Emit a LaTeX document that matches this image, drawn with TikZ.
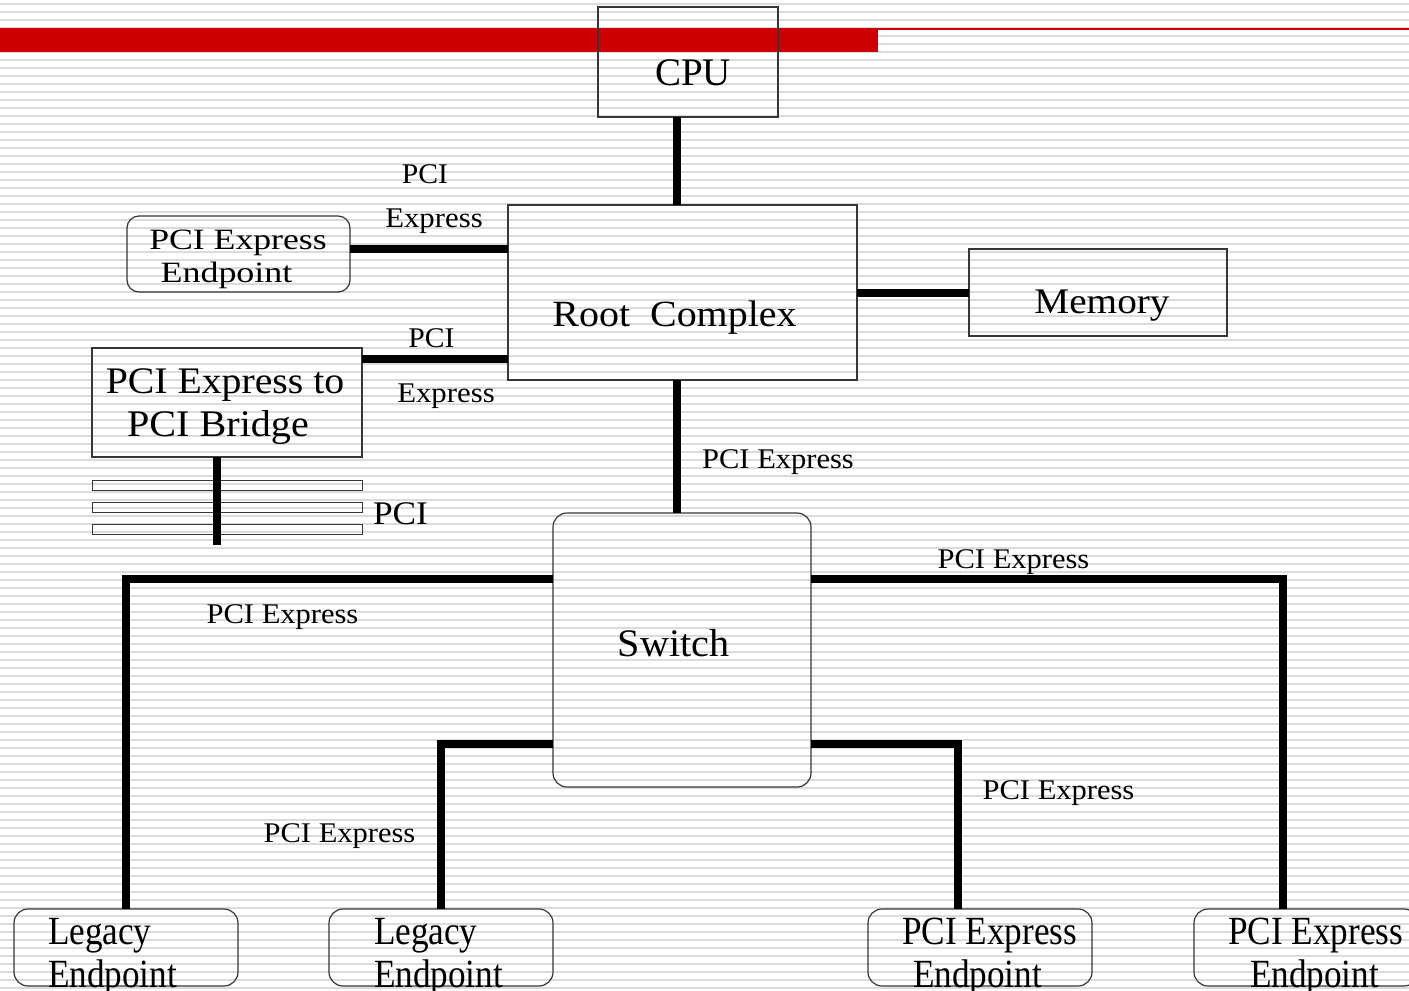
\documentclass[tikz,border=0pt]{standalone}
\usepackage{fontspec}
\setmainfont{Liberation Serif}
\usetikzlibrary{calc}
\definecolor{stripe}{RGB}{219,219,219}
\definecolor{redbar}{RGB}{204,0,0}
\definecolor{boxc}{RGB}{55,55,55}
\newcommand\fs[1]{\fontsize{#1}{#1}\selectfont}
\newcommand\hs[2]{\scalebox{#1}[1]{#2}}
\tikzset{
  box/.style={draw=boxc, line width=1.2pt, rectangle, inner sep=0pt, outer sep=0pt},
  rbox/.style={box, rounded corners=14pt},
  busbox/.style={box, line width=1pt, minimum width=270pt, minimum height=10pt},
  conn/.style={line width=8pt, black},
  txt/.style={inner sep=0pt, outer sep=0pt, anchor=base, text=black},
  txtw/.style={txt, anchor=base west},
  lbl/.style={txt, font=\fs{28.5}},
  big/.style={txtw, font=\fs{40}},
}
\begin{document}
\begin{tikzpicture}[x=1pt,y=-1pt]
\useasboundingbox (0,0) rectangle (1409,991);
\clip (0,0) rectangle (1409,991);
\fill[white] (0,0) rectangle (1409,991);
\foreach \k in {0,...,123} \draw[stripe, line width=2.4pt] (0,4+8*\k) -- (1409,4+8*\k);
\fill[redbar] (0,27.5) rectangle (878,52);
\draw[redbar, line width=2pt] (878,28.5) -- (1409,28.5);

% boxes
\node[box, minimum width=180pt, minimum height=110pt] (cpu) at (688,62) {};
\node[box, minimum width=349pt, minimum height=175pt] (root) at (682.5,292.5) {};
\node[box, minimum width=258pt, minimum height=87pt] (mem) at (1098,292.5) {};
\node[box, rounded corners=12pt, minimum width=223pt, minimum height=76pt] (ep0) at (238.5,254) {};
\node[box, minimum width=270pt, minimum height=109pt] (bridge) at (227,402.5) {};
\node[busbox] (bus1) at (227,485) {};
\node[busbox] (bus2) at (227,507) {};
\node[busbox] (bus3) at (227,529) {};
\node[rbox, minimum width=258pt, minimum height=274pt] (sw) at (682,650) {};
\node[rbox, minimum width=224pt, minimum height=77pt] (le1) at (126,947.5) {};
\node[rbox, minimum width=224pt, minimum height=77pt] (le2) at (441,947.5) {};
\node[rbox, minimum width=224pt, minimum height=77pt] (ep3) at (980,947.5) {};
\node[rbox, minimum width=224pt, minimum height=77pt] (ep4) at (1306,947.5) {};

% connectors
\coordinate (xa) at (677,0);
\coordinate (ya) at (0,248.5);
\coordinate (yb) at (0,359);
\coordinate (yc) at (0,578.5);
\coordinate (yd) at (0,744);
\coordinate (xe) at (958,0);
\coordinate (xf) at (1283,0);
\coordinate (busend) at (216.5,545);
\draw[conn] (cpu.south -| xa) -- (root.north -| xa);
\draw[conn] (root.south -| xa) -- (sw.north -| xa);
\draw[conn] (ep0.east |- ya) -- (root.west |- ya);
\draw[conn] (bridge.east |- yb) -- (root.west |- yb);
\draw[conn] (root.east) -- (mem.west);
\draw[conn] (bridge.south -| busend) -- (busend);
\draw[conn] (sw.west |- yc) -| (le1.north);
\draw[conn] (sw.west |- yd) -| (le2.north);
\draw[conn] (sw.east |- yd) -| (ep3.north -| xe);
\draw[conn] (sw.east |- yc) -| (ep4.north -| xf);

% box texts
\node[txt, font=\fs{39}] (cput) at (693,85) {CPU};
\node[txt, font=\fs{37}] (roott) at (674.5,326) {\hs{1.08}{Root~~Complex}};
\node[txt, font=\fs{36}] (memt) at (1102,313) {\hs{1.09}{Memory}};
\node[txt, font=\fs{39}] (swt) at (673.5,656) {\hs{1.03}{Switch}};
\node[txt, font=\fs{37.5}] (brt1) at (225,393) {\hs{1.06}{PCI Express to}};
\node[txt, font=\fs{37.5}] (brt2) at (218,436) {\hs{1.07}{PCI Bridge}};
\node[txt, font=\fs{29.5}] (ep0t1) at (238,249) {\hs{1.21}{PCI Express}};
\node[txt, font=\fs{29.5}] (ep0t2) at (226.5,282) {\hs{1.22}{Endpoint}};
\node[big] (le1t1) at (48,944) {\hs{0.88}{Legacy}};
\node[big] (le1t2) at (48,987) {\hs{0.88}{Endpoint}};
\node[big] (le2t1) at (374,944) {\hs{0.88}{Legacy}};
\node[big] (le2t2) at (374,987) {\hs{0.88}{Endpoint}};
\node[big] (ep3t1) at (902,944) {\hs{0.88}{PCI Express}};
\node[big] (ep3t2) at (913,987) {\hs{0.88}{Endpoint}};
\node[big] (ep4t1) at (1228,944) {\hs{0.88}{PCI Express}};
\node[big] (ep4t2) at (1250,987) {\hs{0.88}{Endpoint}};

% connector labels
\node[lbl] (l1a) at (425,183) {\hs{1.04}{PCI}};
\node[lbl] (l1b) at (434,227) {\hs{1.08}{Express}};
\node[lbl] (l2a) at (431.5,347) {\hs{1.04}{PCI}};
\node[lbl] (l2b) at (446,402) {\hs{1.08}{Express}};
\node[lbl] (l3) at (778,468) {\hs{1.07}{PCI Express}};
\node[lbl] (l4) at (1013.5,568) {\hs{1.07}{PCI Express}};
\node[lbl] (l5) at (282.5,623) {\hs{1.07}{PCI Express}};
\node[lbl] (l6) at (339.5,842) {\hs{1.07}{PCI Express}};
\node[lbl] (l7) at (1058.5,799) {\hs{1.07}{PCI Express}};
\node[txt, font=\fs{33}] (lbus) at (400.5,524) {\hs{1.07}{PCI}};
\end{tikzpicture}
\end{document}
